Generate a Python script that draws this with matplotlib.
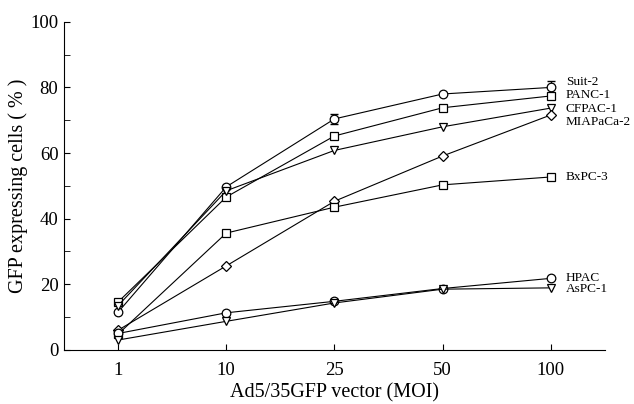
import matplotlib
matplotlib.use("Agg")
import matplotlib.pyplot as plt
from matplotlib.ticker import MultipleLocator

plt.rcParams['font.family'] = ['Liberation Serif', 'DejaVu Serif']

moi_labels = ["1", "10", "25", "50", "100"]
suit2 = [11.5, 49.7, 70.4, 78.0, 80.0]
suit2_err = [0, 0, 1.5, 0, 2.0]
panc1 = [14.6, 46.6, 65.2, 73.8, 77.4]
cfpac1 = [13.5, 48.5, 60.8, 68.0, 73.7]
miapaca2 = [6.0, 25.6, 45.3, 59.1, 71.6]
bxpc3 = [4.8, 35.6, 43.5, 50.3, 52.7]
hpac = [5.0, 11.3, 14.8, 18.7, 21.8]
aspc1 = [3.0, 8.7, 14.3, 18.5, 18.9]

series = [
    ("Suit-2", suit2, "o"),
    ("PANC-1", panc1, "s"),
    ("CFPAC-1", cfpac1, "v"),
    ("MIAPaCa-2", miapaca2, "D"),
    ("BxPC-3", bxpc3, "s"),
    ("HPAC", hpac, "o"),
    ("AsPC-1", aspc1, "v"),
]
label_y = {"Suit-2": 81.8, "PANC-1": 77.7, "CFPAC-1": 73.3, "MIAPaCa-2": 69.5,
           "BxPC-3": 52.7, "HPAC": 22.0, "AsPC-1": 18.5}

fig = plt.figure(figsize=(6.34, 4.04), dpi=100)
ax = fig.add_axes([0.101, 0.134, 0.853, 0.812])
x = list(range(len(moi_labels)))

for name, vals, m in series:
    ms = 5.5 if m == "D" else 6.2
    ax.plot(x, vals, color="black", lw=0.8, marker=m, ms=ms,
            mfc="white", mec="black", mew=0.9, zorder=3)
    ax.text(4.14, label_y[name], name, fontsize=9.5, va="center", ha="left")

ax.errorbar(x, suit2, yerr=suit2_err, fmt="none", ecolor="black",
            elinewidth=0.8, capsize=3, zorder=2)

ax.set_xlim(-0.5, 4.5)
ax.set_ylim(0, 100)
ax.set_xticks(x)
ax.set_xticklabels(moi_labels, fontsize=13.5)
ax.yaxis.set_major_locator(MultipleLocator(20))
ax.yaxis.set_minor_locator(MultipleLocator(10))
ax.tick_params(axis="y", which="both", direction="in", length=4, labelsize=13.5, pad=4)
ax.tick_params(axis="x", direction="in", length=4, pad=9)
for s in ["top", "right"]:
    ax.spines[s].set_visible(False)
ax.set_xlabel("Ad5/35GFP vector (MOI)", fontsize=14.5, labelpad=3)
ax.set_ylabel("GFP expressing cells ( % )", fontsize=14.5)
ax.yaxis.set_label_coords(-0.066, 0.5)

fig.savefig("out.png", dpi=100)
